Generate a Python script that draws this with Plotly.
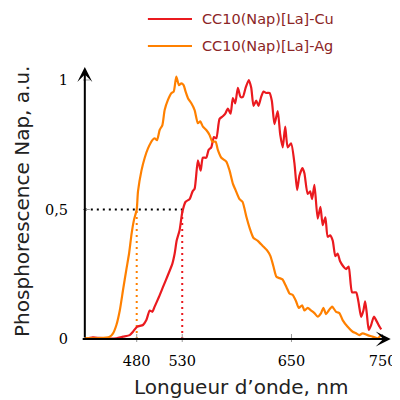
import plotly.graph_objects as go

# wavelength (nm) / normalised phosphorescence
ag_nm = [423.0, 439.4, 450.4, 454.0, 457.7, 461.4, 465.0, 468.7, 471.6, 474.5, 477.0,
         480.0, 481.4, 485.2, 488.8, 492.4, 497.2, 499.7, 502.3, 505.2, 508.2, 510.7,
         514.3, 518.0, 520.6, 523.5, 526.4, 529.0, 531.5, 533.7, 536.3, 540.0, 543.6,
         547.2, 549.8, 552.7, 556.4, 560.0, 563.0, 566.6, 569.1, 572.9, 578.4, 582.0,
         585.6, 588.6, 592.9, 596.2, 600.6, 603.9, 608.3, 612.7, 618.2, 623.6, 626.9,
         630.2, 633.5, 636.8, 640.1, 644.5, 647.8, 651.4, 655.1, 658.0, 661.7, 664.2,
         667.8, 671.6, 675.2, 678.8, 682.5, 685.0, 688.0, 690.9, 694.6, 699.0, 702.6,
         706.2, 711.7, 717.2, 720.9, 724.5, 728.1, 733.6, 739.1, 744.6, 748.3]
ag_val = [0.003, 0.003, 0.009, 0.022, 0.054, 0.11, 0.19, 0.27, 0.33, 0.41, 0.46,
          0.50, 0.57, 0.65, 0.70, 0.736, 0.768, 0.775, 0.768, 0.807, 0.826, 0.884,
          0.923, 0.949, 0.955, 1.013, 0.98, 0.987, 0.98, 0.955, 0.93, 0.91, 0.884,
          0.833, 0.84, 0.82, 0.807, 0.788, 0.762, 0.762, 0.73, 0.70, 0.685, 0.65,
          0.60, 0.575, 0.54, 0.53, 0.47, 0.43, 0.39, 0.38, 0.36, 0.34, 0.32,
          0.28, 0.24, 0.235, 0.23, 0.20, 0.176, 0.17, 0.145, 0.12, 0.13, 0.11,
          0.12, 0.11, 0.10, 0.086, 0.10, 0.12, 0.096, 0.11, 0.125, 0.105, 0.10,
          0.073, 0.047, 0.028, 0.022, 0.015, 0.022, 0.015, 0.009, 0.003, 0.015]

cu_nm = [423.0, 431.8, 439.4, 450.4, 457.7, 465.0, 472.3, 475.9, 480.3, 486.9, 490.6,
         494.3, 497.2, 499.7, 504.5, 508.8, 514.3, 519.1, 521.7, 523.9, 527.1, 530.1,
         533.7, 538.1, 541.4, 543.6, 547.2, 550.2, 552.7, 556.4, 559.0, 561.9, 564.8,
         567.4, 571.0, 574.6, 577.3, 580.1, 583.1, 585.6, 588.2, 591.1, 594.0, 596.6,
         599.6, 603.1, 605.8, 608.3, 611.3, 613.8, 616.7, 619.3, 622.2, 625.8, 628.4,
         631.3, 634.9, 637.6, 640.4, 643.1, 645.9, 649.6, 653.2, 656.2, 658.7, 662.0,
         664.2, 667.8, 670.5, 672.6, 675.2, 678.8, 681.8, 684.3, 687.2, 689.8, 692.4,
         695.3, 698.2, 700.7, 703.4, 707.0, 710.0, 712.8, 716.6, 721.0, 723.5, 726.5,
         729.0, 730.9, 732.7, 734.9, 737.5, 740.5, 743.8, 746.8, 748.6]
cu_val = [0.0, 0.006, 0.004, 0.002, 0.003, 0.009, 0.015, 0.028, 0.047, 0.054, 0.073,
          0.11, 0.105, 0.125, 0.163, 0.20, 0.247, 0.29, 0.33, 0.38, 0.42, 0.49,
          0.53, 0.54, 0.57, 0.58, 0.69, 0.65, 0.70, 0.70, 0.73, 0.74, 0.78,
          0.775, 0.85, 0.86, 0.87, 0.89, 0.87, 0.93, 0.91, 0.97, 0.935, 0.935,
          0.97, 1.0, 0.97, 0.90, 0.92, 0.90, 0.935, 0.955, 0.95, 0.95, 0.92,
          0.83, 0.88, 0.79, 0.74, 0.82, 0.74, 0.755, 0.68, 0.575, 0.63, 0.66,
          0.64, 0.56, 0.57, 0.54, 0.595, 0.465, 0.51, 0.44, 0.47, 0.395, 0.40,
          0.38, 0.32, 0.33, 0.30, 0.28, 0.27, 0.28, 0.18, 0.18, 0.145, 0.085,
          0.11, 0.145, 0.10, 0.035, 0.054, 0.086, 0.067, 0.047, 0.037]

series_names = ['CC10(Nap)[La]-Cu', 'CC10(Nap)[La]-Ag']

half_level = 0.5
half_ag = 480
half_cu = 530

x_ticks = [480, 530, 650, 750]
y_ticks = [0, 0.5, 1]
y_ticktext = ["0", "0,5", "1"]

# plot area reaches the top of the page so the legend fits above the curves
x_min, x_max = 421, 767
y_min, y_max = -0.0116, 1.278
x_arrow = 759
y_arrow = 1.05
x0_axis = 423
x_axis_start = 419

RED = "#ea1a1f"
ORANGE = "#ff8000"
LEGEND_TXT = '#8b2525'

fig = go.Figure()

# guide lines at half maximum
fig.add_trace(go.Scatter(x=[x0_axis, half_cu], y=[half_level, half_level], mode='lines',
                         line=dict(color='black', width=2, dash='2px,4px'),
                         hoverinfo='skip'))
fig.add_trace(go.Scatter(x=[half_ag, half_ag], y=[0, half_level], mode='lines',
                         line=dict(color=ORANGE, width=2, dash='2px,4px'),
                         hoverinfo='skip'))
fig.add_trace(go.Scatter(x=[half_cu, half_cu], y=[0, half_level], mode='lines',
                         line=dict(color=RED, width=2, dash='2px,4px'),
                         hoverinfo='skip'))

fig.add_trace(go.Scatter(x=cu_nm, y=cu_val, mode='lines', name=series_names[0],
                         line=dict(color=RED, width=2.2, shape='spline', smoothing=0.6)))
fig.add_trace(go.Scatter(x=ag_nm, y=ag_val, mode='lines', name=series_names[1],
                         line=dict(color=ORANGE, width=2.2, shape='spline', smoothing=0.6)))

# tick marks crossing the axes
shapes = []
for v in x_ticks:
    shapes.append(dict(type='line', xref='x', yref='y', ysizemode='pixel', yanchor=0,
                       x0=v, x1=v, y0=-5, y1=5, line=dict(color='#999999', width=1)))
for v in y_ticks:
    shapes.append(dict(type='line', xref='x', yref='y', xsizemode='pixel', xanchor=x0_axis,
                       x0=-5, x1=5, y0=v, y1=v, line=dict(color='#999999', width=1)))

annotations = [
    # axes with arrow heads
    dict(x=x_arrow, y=0, ax=x_axis_start, ay=0, xref='x', yref='y', axref='x', ayref='y',
         text='', showarrow=True, arrowhead=3, arrowsize=1.25, arrowwidth=2, arrowcolor='black'),
    dict(x=x0_axis, y=y_arrow, ax=x0_axis, ay=0, xref='x', yref='y', axref='x', ayref='y',
         text='', showarrow=True, arrowhead=3, arrowsize=1.25, arrowwidth=2, arrowcolor='black'),
    dict(text="Longueur d’onde, nm", x=0.5, y=-0.135, xref='paper', yref='paper',
         showarrow=False, xanchor='center', yanchor='middle',
         font=dict(family='DejaVu Sans', size=20, color='#222222')),
    dict(text="Phosphorescence Nap, a.u.", x=-0.194, y=0.422, xref='paper', yref='paper',
         showarrow=False, xanchor='center', yanchor='middle', textangle=-90,
         font=dict(family='DejaVu Sans', size=20, color='#222222')),
]

# legend drawn by hand for exact placement
legend_rows = [0.967, 0.886]
for name, color, row in zip(series_names, [RED, ORANGE], legend_rows):
    shapes.append(dict(type='line', xref='paper', yref='paper', x0=0.206, x1=0.346,
                       y0=row, y1=row, line=dict(color=color, width=2)))
    annotations.append(dict(text=name, x=0.371, y=row, xref='paper', yref='paper',
                            showarrow=False, xanchor='left', yanchor='middle',
                            font=dict(family='DejaVu Sans', size=14.5, color=LEGEND_TXT)))

fig.update_layout(
    width=392, height=392,
    margin=dict(l=75, r=2, t=0, b=58),
    plot_bgcolor='white', paper_bgcolor='white',
    shapes=shapes, annotations=annotations,
    showlegend=False,
    xaxis=dict(range=[x_min, x_max], showgrid=False, zeroline=False, showline=False,
               tickvals=x_ticks, ticks='', ticklabelstandoff=8, automargin=False,
               ticklabeloverflow='allow',
               tickfont=dict(family='DejaVu Serif', size=14.5, color='black')),
    yaxis=dict(range=[y_min, y_max], showgrid=False, zeroline=False, showline=False,
               tickvals=y_ticks, ticktext=y_ticktext, ticks='', ticklabelstandoff=14,
               automargin=False,
               tickfont=dict(family='DejaVu Serif', size=14.5, color='black')),
)

fig.write_html("out.html")
